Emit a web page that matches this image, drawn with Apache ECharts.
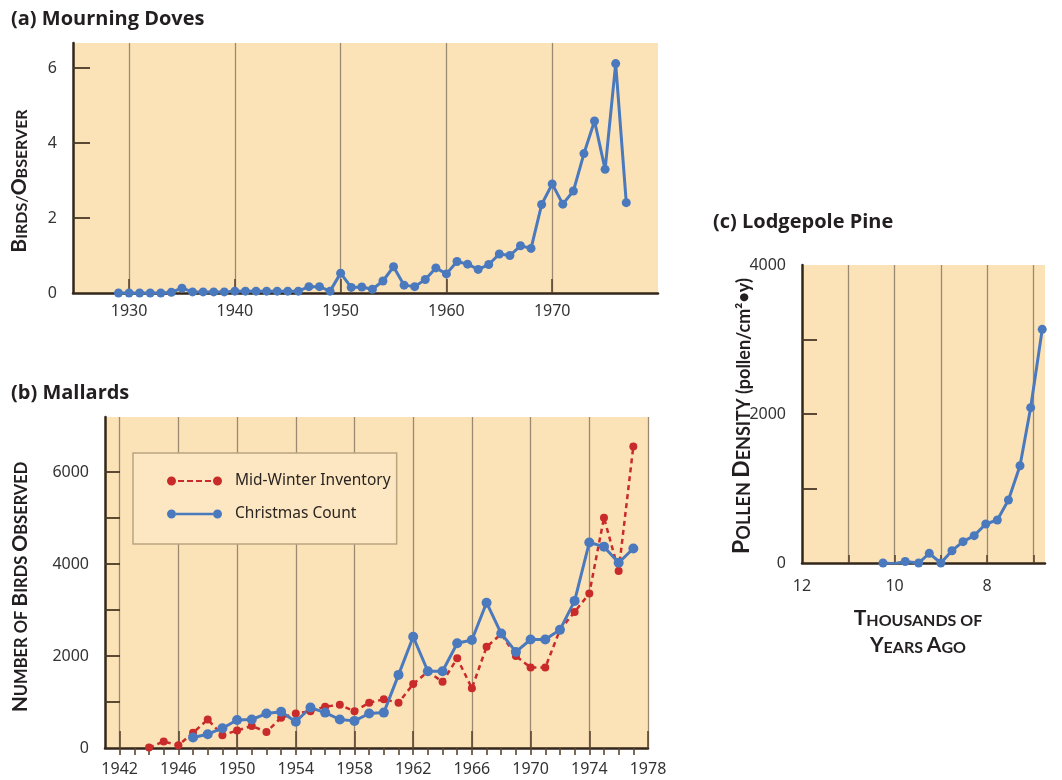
<!DOCTYPE html>
<html><head><meta charset="utf-8">
<script src="https://cdn.jsdelivr.net/npm/echarts@6/dist/echarts.min.js"></script>
<style>html,body{margin:0;padding:0;background:#fff}#c{width:1062px;height:780px}</style>
</head><body><div id="c"></div>
<script>
// ---------- DATA ----------
const doveYears = [1929,1930,1931,1932,1933,1934,1935,1936,1937,1938,1939,1940,1941,1942,1943,1944,1945,1946,1947,1948,1949,1950,1951,1952,1953,1954,1955,1956,1957,1958,1959,1960,1961,1962,1963,1964,1965,1966,1967,1968,1969,1970,1971,1972,1973,1974,1975,1976,1977];
const doveValues = [0,0,0,0,0,0.02,0.13,0.03,0.03,0.03,0.03,0.05,0.05,0.05,0.05,0.05,0.05,0.05,0.17,0.17,0.05,0.53,0.15,0.16,0.1,0.32,0.7,0.21,0.17,0.36,0.67,0.51,0.84,0.77,0.63,0.76,1.04,1.0,1.26,1.19,2.36,2.91,2.37,2.72,3.72,4.59,3.3,6.12,2.41];

const winterYears = [1944,1945,1946,1947,1948,1949,1950,1951,1952,1953,1954,1955,1956,1957,1958,1959,1960,1961,1962,1963,1964,1965,1966,1967,1968,1969,1970,1971,1972,1973,1974,1975,1976,1977];
const winterValues = [10,140,60,330,620,280,380,480,350,660,750,800,900,940,800,985,1060,985,1390,1660,1440,1950,1300,2200,2480,2000,1750,1750,2570,2960,3360,5010,3850,6560];

const xmasYears = [1947,1948,1949,1950,1951,1952,1953,1954,1955,1956,1957,1958,1959,1960,1961,1962,1963,1964,1965,1966,1967,1968,1969,1970,1971,1972,1973,1974,1975,1976,1977];
const xmasValues = [230,300,430,610,620,750,790,570,880,770,620,590,750,770,1590,2420,1670,1670,2280,2350,3160,2490,2090,2360,2360,2570,3200,4470,4380,4030,4340];

const pineAges = [10.25,10.0,9.77,9.48,9.25,9.0,8.76,8.52,8.28,8.03,7.78,7.54,7.29,7.06,6.81];
const pineDensity = [0,-10,20,0,130,0,165,286,367,523,577,846,1306,2085,3136];

// tick labels / tick positions
const doveXLabels = [1930,1940,1950,1960,1970];
const doveYLabels = [0,2,4,6];
const doveYTicks = [2,4,6];
const mallardXLabels = [1942,1946,1950,1954,1958,1962,1966,1970,1974,1978];
const mallardXMinor = [1942,1943,1944,1945,1946,1947,1948,1949,1950,1951,1952,1953,1954,1955,1956,1957,1958,1959,1960,1961,1962,1963,1964,1965,1966,1967,1968,1969,1970,1971,1972,1973,1974,1975,1976,1977];
const mallardYLabels = [0,2000,4000,6000];
const mallardYTicks = [1000,2000,3000,4000,5000,6000];
const pineXLabels = [12,10,8];
const pineXGrid = [11,10,9,8,7];
const pineYLabels = [0,2000,4000];
const pineYTicks = [1000,2000,3000];

// ---------- STYLE ----------
const BG = '#fce2b7';
const GRIDC = '#9a8a72';
const AXISC = '#33261a';
const BLUE = '#4a79bd';
const RED = '#c92a2a';
const TXT = '#231f20';
const NUMFONT = '"Noto Sans",sans-serif';
const NUMSIZE = 16;
const BOLDFONT = 'Lato,"Open Sans",sans-serif';
const TITLEFONT = '"Open Sans",Lato,sans-serif';

const pairs = (xs, ys) => xs.map((x, i) => [x, ys[i]]);
const plain = v => String(v);

function xAxisBase(gridIndex, min, max, labels, ticks, tickLen, margin, opts) {
  return Object.assign({
    type: 'value', gridIndex, min, max,
    axisLine: {show: true, onZero: false, lineStyle: {color: AXISC, width: 2.5}},
    axisTick: {show: true, inside: true, length: tickLen, customValues: ticks, lineStyle: {color: '#5a4632', width: 1.6}},
    axisLabel: {customValues: labels, formatter: plain, color: '#333', fontFamily: NUMFONT, fontSize: NUMSIZE, margin},
    splitLine: {show: true, lineStyle: {color: GRIDC, width: 1.3}}
  }, opts || {});
}
function yAxisBase(gridIndex, min, max, labels, ticks, tickLen) {
  return {
    type: 'value', gridIndex, min, max,
    axisLine: {show: true, onZero: false, lineStyle: {color: AXISC, width: 2.5}},
    axisTick: {show: true, inside: true, length: tickLen, customValues: ticks, lineStyle: {color: '#4a3826', width: 1.8}},
    axisLabel: {customValues: labels, formatter: plain, color: '#333', fontFamily: NUMFONT, fontSize: NUMSIZE, margin: 16},
    splitLine: {show: false}
  };
}

const capsRich = (big, small) => ({
  a: {fontSize: big, fontWeight: 'bold', fontFamily: BOLDFONT, fill: TXT, verticalAlign: 'bottom'},
  b: {fontSize: small, fontWeight: 'bold', fontFamily: BOLDFONT, fill: TXT, verticalAlign: 'bottom'}
});

const option = {
  animation: false,
  backgroundColor: '#ffffff',
  grid: [
    {left: 73, top: 43, width: 585, height: 250, show: true, backgroundColor: BG, borderWidth: 0},
    {left: 105, top: 417, width: 543, height: 331, show: true, backgroundColor: BG, borderWidth: 0},
    {left: 802, top: 265, width: 243, height: 298, show: true, backgroundColor: BG, borderWidth: 0}
  ],
  xAxis: [
    xAxisBase(0, 1924.7, 1980, doveXLabels, doveXLabels, 14, 10),
    xAxisBase(1, 1941, 1978, mallardXLabels, mallardXLabels, 17, 13),
    {type: 'value', gridIndex: 1, min: 1941, max: 1978,
     axisLine: {show: false}, axisLabel: {show: false}, splitLine: {show: false},
     axisTick: {show: true, inside: true, length: 7, customValues: mallardXMinor, lineStyle: {color: '#5a4632', width: 1.6}}},
    xAxisBase(2, 6.75, 12, pineXLabels, pineXGrid, 8, 15, {inverse: true})
  ],
  yAxis: [
    yAxisBase(0, 0, 6.67, doveYLabels, doveYTicks, 17),
    yAxisBase(1, 0, 7200, mallardYLabels, mallardYTicks, 15),
    yAxisBase(2, 0, 4000, pineYLabels, pineYTicks, 15)
  ],
  legend: {
    show: true, orient: 'vertical', left: 133, top: 453,
    padding: [18, 6, 20, 34], itemGap: 13,
    itemWidth: 55, itemHeight: 9,
    backgroundColor: '#fde7c3', borderColor: '#b9a582', borderWidth: 1.5,
    selectedMode: false,
    itemStyle: {borderWidth: 0},
    textStyle: {fontFamily: NUMFONT, fontSize: 15.5, color: '#2a2520', padding: [0, 0, 0, 8], lineHeight: 20},
    data: [
      {name: 'Mid-Winter Inventory', icon: 'path://M0 9A9 9 0 1 0 18 9A9 9 0 1 0 0 9ZM92 9A9 9 0 1 0 110 9A9 9 0 1 0 92 9ZM22 7H34V11H22ZM40 7H52V11H40ZM58 7H70V11H58ZM76 7H88V11H76Z'},
      {name: 'Christmas Count', icon: 'path://M0 9A9 9 0 1 0 18 9A9 9 0 1 0 0 9ZM92 9A9 9 0 1 0 110 9A9 9 0 1 0 92 9ZM18 6.5H92V11.5H18Z'}
    ]
  },
  series: [
    {name: 'Mourning Doves', type: 'line', xAxisIndex: 0, yAxisIndex: 0,
     data: pairs(doveYears, doveValues), symbol: 'circle', symbolSize: 9,
     lineStyle: {color: BLUE, width: 3}, itemStyle: {color: BLUE, borderWidth: 0}},
    {name: 'Mid-Winter Inventory', type: 'line', xAxisIndex: 1, yAxisIndex: 1,
     data: pairs(winterYears, winterValues), symbol: 'circle', symbolSize: 8,
     lineStyle: {color: RED, width: 2.5, type: [5, 4]}, itemStyle: {color: RED, borderWidth: 0}},
    {name: 'Christmas Count', type: 'line', xAxisIndex: 1, yAxisIndex: 1,
     data: pairs(xmasYears, xmasValues), symbol: 'circle', symbolSize: 10,
     lineStyle: {color: BLUE, width: 3}, itemStyle: {color: BLUE, borderWidth: 0}},
    {name: 'Lodgepole Pine', type: 'line', xAxisIndex: 3, yAxisIndex: 2,
     data: pairs(pineAges, pineDensity), symbol: 'circle', symbolSize: 9,
     lineStyle: {color: BLUE, width: 3}, itemStyle: {color: BLUE, borderWidth: 0}}
  ],
  graphic: [
    {type: 'text', left: 11, top: 9, style: {text: '(a) Mourning Doves', font: 'bold 20px ' + TITLEFONT, fill: TXT}},
    {type: 'text', left: 11, top: 383, style: {text: '(b) Mallards', font: 'bold 20px ' + TITLEFONT, fill: TXT}},
    {type: 'text', left: 713, top: 212, style: {text: '(c) Lodgepole Pine', font: 'bold 20px ' + TITLEFONT, fill: TXT}},
    {type: 'text', x: 19, y: 181, rotation: Math.PI / 2,
     style: {text: '{a|B}{b|IRDS/}{a|O}{b|BSERVER}', rich: capsRich(21, 16), align: 'center', verticalAlign: 'middle'}},
    {type: 'text', x: 20, y: 587, rotation: Math.PI / 2,
     style: {text: '{a|N}{b|UMBER OF }{a|B}{b|IRDS }{a|O}{b|BSERVED}', rich: capsRich(21, 16.5), align: 'center', verticalAlign: 'middle'}},
    {type: 'text', x: 742, y: 416, rotation: Math.PI / 2,
     style: {text: '{a|P}{b|OLLEN }{a|D}{b|ENSITY }{c|(pollen/cm²•y)}', rich: Object.assign(capsRich(23, 18), {c: {fontSize: 18, fontWeight: 'bold', fontFamily: BOLDFONT, fill: TXT, verticalAlign: 'bottom'}}), align: 'center', verticalAlign: 'middle'}},
    {type: 'text', x: 918, y: 618,
     style: {text: '{a|T}{b|HOUSANDS OF}', rich: capsRich(21, 16), align: 'center', verticalAlign: 'middle'}},
    {type: 'text', x: 918, y: 645,
     style: {text: '{a|Y}{b|EARS }{a|A}{b|GO}', rich: capsRich(21, 16), align: 'center', verticalAlign: 'middle'}}
  ]
};

const chart = echarts.init(document.getElementById('c'), null, {renderer: 'canvas'});
chart.setOption(option);
</script>
</body></html>
